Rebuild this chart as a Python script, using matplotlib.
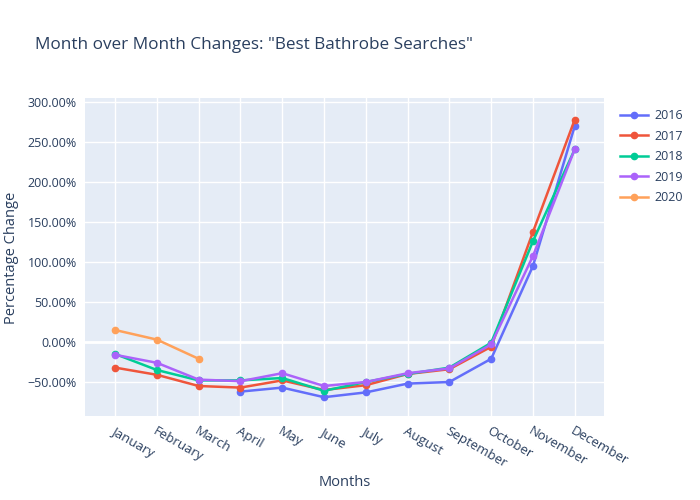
import matplotlib
matplotlib.use("Agg")
import matplotlib.pyplot as plt
import numpy as np

plt.rcParams['font.family'] = ['Open Sans', 'DejaVu Sans']

months = ["January", "February", "March", "April", "May", "June", "July",
          "August", "September", "October", "November", "December"]

# percentage changes (None = no data)
y2016 = [None, None, None, -62, -57, -69, -63, -52, -50, -21, 95, 270]
y2017 = [-32, -41, -55, -57, -48, -60, -54, -40, -34, -6, 137.5, 278]
y2018 = [-15, -35, -48, -48, -45, -61, -50, -40, -32, -1, 126, 241]
y2019 = [-16, -26, -47, -49, -39, -55, -50, -39, -33, -3, 107.5, 241]
y2020 = [15, 3, -21]

series = [("2016", y2016, "#636efa"), ("2017", y2017, "#EF553B"),
          ("2018", y2018, "#00cc96"), ("2019", y2019, "#ab63fa"),
          ("2020", y2020, "#FFA15A")]

text_color = "#2a3f5f"

fig = plt.figure(figsize=(7, 5), dpi=100)
ax = fig.add_axes([85 / 700, 1 - 416 / 500, (604 - 85) / 700, (416 - 98) / 500])
ax.set_facecolor("#E5ECF6")

for name, vals, color in series:
    x = [i for i, v in enumerate(vals) if v is not None]
    y = [v for v in vals if v is not None]
    ax.plot(x, y, color=color, linewidth=1.8, marker="o", markersize=4.5, label=name, zorder=3)

ax.set_xlim(-0.72, 11.7)
ax.set_ylim(-92.5, 305)
ax.set_xticks(range(12))
ax.set_xticklabels(months, rotation=-30, ha="left", rotation_mode="anchor", color=text_color, fontsize=9.5)
yt = [-50, 0, 50, 100, 150, 200, 250, 300]
ax.set_yticks(yt)
ax.set_yticklabels([f"{v:.2f}%".replace("-", "\u2212") for v in yt], color=text_color, fontsize=9)
ax.grid(True, color="white", linewidth=1)
ax.axhline(0, color="white", linewidth=2, zorder=1)
ax.set_axisbelow(True)
ax.tick_params(length=0, pad=6)
for s in ax.spines.values():
    s.set_visible(False)

fig.text(345 / 700, 1 - 483 / 500, "Months", color=text_color, fontsize=10.5, ha="center", va="center")
fig.text(12 / 700, 1 - 258 / 500, "Percentage Change", color=text_color, fontsize=10.5,
         ha="center", va="center", rotation=90)

fig.text(35 / 700, 1 - 45 / 500, 'Month over Month Changes: "Best Bathrobe Searches"',
         color=text_color, fontsize=12.3, va="center", ha="left")

leg = ax.legend(loc="upper left", bbox_to_anchor=(1.01, 1.0), frameon=False,
                fontsize=9, handlelength=2.2, handletextpad=0.5, labelspacing=0.6)
for t in leg.get_texts():
    t.set_color(text_color)

fig.savefig("out.png", dpi=100)
